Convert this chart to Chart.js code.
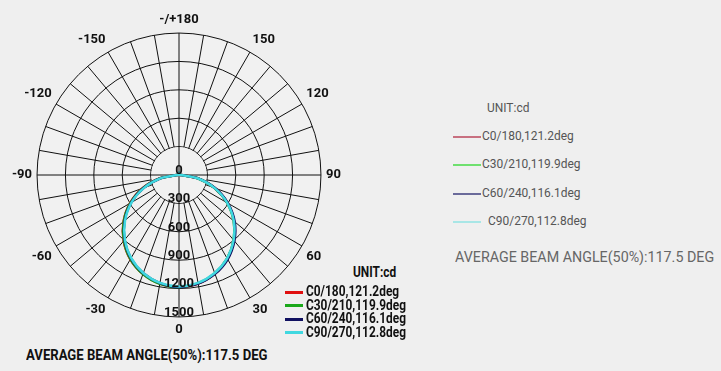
<!DOCTYPE html>
<html>
<head>
<meta charset="utf-8">
<script src="https://cdn.jsdelivr.net/npm/chart.js@4.4.1/dist/chart.umd.min.js"></script>
<style>
  body { margin: 0; background: #efefef; width: 721px; height: 371px; overflow: hidden; position: relative; font-family: Roboto, sans-serif; }
  #wrap { position: absolute; left: 9px; top: 11px; width: 335px; height: 329px; }
  .abs { position: absolute; white-space: nowrap; transform-origin: left center; }
  .key { position: absolute; height: 0; }
  #legIn .abs { font-weight: bold; font-size: 14px; color: #111; transform: scaleX(0.85); }
  #legOut .abs { font-size: 13px; color: #555; transform: scaleX(0.92); }
  #beamIn { left: 26px; top: 346px; font-weight: bold; font-size: 15px; color: #111; transform: scaleX(0.875); }
  #beamOut { left: 455px; top: 249px; font-size: 14px; color: #666; transform: scaleX(1.02); }
</style>
</head>
<body>
<div id="wrap"><canvas id="myChart"></canvas></div>
<div id="legIn"></div>
<div id="legOut"></div>
<div class="abs" id="beamIn"></div>
<div class="abs" id="beamOut"></div>
<script>
// gamma angles, clockwise from the bottom (0) via the left side (-90) to the top (+/-180)
const angles = [0, -10, -20, -30, -40, -50, -60, -70, -80, -90, -100, -110, -120, -130, -140, -150, -160, -170,
  180, 170, 160, 150, 140, 130, 120, 110, 100, 90, 80, 70, 60, 50, 40, 30, 20, 10]

const intensityTicks = [0, 300, 600, 900, 1200, 1500]

const seriesNames = ['C0/180,121.2deg', 'C30/210,119.9deg', 'C60/240,116.1deg', 'C90/270,112.8deg']

// candela, same order as angles
const c0 = [1182, 1166, 1112, 1028, 910, 765, 598, 410, 210, 28, 8, 6, 6, 6, 6, 8, 14, 20,
  24, 20, 14, 8, 6, 6, 6, 6, 8, 24, 204, 402, 590, 758, 902, 1020, 1108, 1164]
const c30 = [1185, 1168, 1114, 1026, 906, 762, 594, 406, 206, 24, 8, 6, 6, 6, 6, 8, 14, 20,
  24, 20, 14, 8, 6, 6, 6, 6, 8, 22, 200, 398, 586, 754, 898, 1018, 1106, 1162]
const c60 = [1186, 1160, 1104, 1016, 896, 750, 584, 396, 198, 20, 8, 6, 6, 6, 6, 8, 14, 20,
  24, 20, 14, 8, 6, 6, 6, 6, 8, 24, 206, 408, 598, 768, 910, 1028, 1112, 1166]
const c90 = [1178, 1158, 1102, 1012, 890, 744, 578, 390, 194, 18, 8, 6, 6, 6, 6, 8, 14, 20,
  24, 20, 14, 8, 6, 6, 6, 6, 8, 20, 198, 398, 588, 756, 898, 1016, 1102, 1158]

const unitText = 'UNIT:cd'
const beamText = 'AVERAGE BEAM ANGLE(50%):117.5 DEG'

const lineColors = ['#e01010', '#1aa81a', '#101060', '#40d8e0']
const fadedColors = ['#c87080', '#6fe06f', '#6a6a9a', '#a8e6e6']
const faceColor = '#f1f1f1'
const labelFont = "bold 13px Roboto, sans-serif"

// spokes start at the first ring: blank the middle and put back the two axes
const innerCircle = {
  id: 'innerCircle',
  beforeDatasetsDraw(chart) {
    const r = chart.scales.r
    const ctx = chart.ctx
    const d = r.getDistanceFromCenterForValue(intensityTicks[1])
    ctx.save()
    ctx.beginPath()
    ctx.arc(r.xCenter, r.yCenter, d - 0.5, 0, Math.PI * 2)
    ctx.fillStyle = faceColor
    ctx.fill()
    ctx.strokeStyle = '#111'
    ctx.lineWidth = 1
    ctx.beginPath()
    ;[0, 9, 18, 27].forEach(i => {
      const p = r.getPointPositionForValue(i, intensityTicks[1])
      ctx.moveTo(r.xCenter, r.yCenter)
      ctx.lineTo(p.x, p.y)
    })
    ctx.stroke()
    ctx.restore()
  }
}

// intensity labels run down the 0 deg axis
const tickLabels = {
  id: 'tickLabels',
  afterDatasetsDraw(chart) {
    const r = chart.scales.r
    const ctx = chart.ctx
    ctx.save()
    ctx.font = labelFont
    ctx.fillStyle = '#111'
    ctx.textAlign = 'center'
    ctx.textBaseline = 'bottom'
    r.ticks.forEach(t => {
      const d = r.getDistanceFromCenterForValue(t.value)
      ctx.fillText(String(t.value), r.xCenter, r.yCenter + d + 2)
    })
    ctx.restore()
  }
}

let plot = () => {
  const ctx = document.getElementById('myChart')
  const series = [c0, c30, c60, c90]

  const config = {
    type: 'radar',
    data: {
      labels: angles,
      datasets: series.map((s, i) => ({
        label: seriesNames[i],
        data: s,
        order: series.length - i,
        borderColor: lineColors[i],
        borderWidth: 2.5,
        pointRadius: 0,
        fill: false,
        tension: 0.25
      }))
    },
    options: {
      responsive: true,
      maintainAspectRatio: false,
      animation: false,
      layout: { padding: 0 },
      plugins: { legend: { display: false }, tooltip: { enabled: false } },
      scales: {
        r: {
          min: intensityTicks[0],
          max: intensityTicks[intensityTicks.length - 1],
          startAngle: 180,
          backgroundColor: faceColor,
          ticks: { stepSize: 300, display: false, backdropPadding: 0, font: { size: 1 } },
          grid: { circular: true, color: '#111', lineWidth: 1 },
          angleLines: { color: '#111', lineWidth: 1 },
          pointLabels: {
            padding: 5,
            color: '#111',
            font: { family: 'Roboto, sans-serif', size: 13, weight: 'bold' },
            callback: (v) => v === 180 ? '-/+180' : (v % 30 === 0 ? String(v) : '')
          }
        }
      }
    },
    plugins: [innerCircle, tickLabels]
  }

  new Chart(ctx, config)
}

let legends = () => {
  const inBox = document.getElementById('legIn')
  const outBox = document.getElementById('legOut')
  let html = '<div class="abs" style="left:353px;top:264px">' + unitText + '</div>'
  seriesNames.forEach((n, i) => {
    const y = 292 + i * 13.5
    html += '<div class="key" style="left:285px;top:' + (y - 1.5) + 'px;width:18px;border-top:3px solid ' + lineColors[i] + '"></div>'
    html += '<div class="abs" style="left:306px;top:' + (y - 9) + 'px">' + n + '</div>'
  })
  inBox.innerHTML = html

  let html2 = '<div class="abs" style="left:487px;top:100px">' + unitText + '</div>'
  seriesNames.forEach((n, i) => {
    const y = 137 + i * 28.3
    html2 += '<div class="key" style="left:453px;top:' + (y - 1) + 'px;width:28px;border-top:2px solid ' + fadedColors[i] + '"></div>'
    html2 += '<div class="abs" style="left:' + (i === 3 ? 488 : 482) + 'px;top:' + (y - 9) + 'px">' + n + '</div>'
  })
  outBox.innerHTML = html2

  document.getElementById('beamIn').textContent = beamText
  document.getElementById('beamOut').textContent = beamText
}

legends()
plot()
</script>
</body>
</html>
